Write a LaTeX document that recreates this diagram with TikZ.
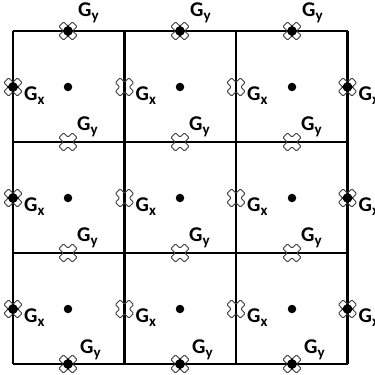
\documentclass[tikz,border=0pt]{standalone}
\usepackage{fontspec}
\setmainfont{Carlito}
\begin{document}
\begin{tikzpicture}[x=1pt,y=-1pt,
  gridline/.style={line width=2.4pt,black},
  lbl/.style={inner sep=0pt,anchor=base west,font=\fontsize{21}{21}\selectfont\bfseries},
  mk/.pic={\draw[line width=0.9pt,black!75,rounded corners=1.2pt,rotate=45,scale=1.3]
      (-2.6,7.4)--(2.6,7.4)--(2.6,2.6)--(7.4,2.6)--(7.4,-2.6)--(2.6,-2.6)--(2.6,-7.4)--(-2.6,-7.4)--(-2.6,-2.6)--(-7.4,-2.6)--(-7.4,2.6)--(-2.6,2.6)--cycle;},
  mkb/.pic={\draw[line width=0.9pt,black!75,rounded corners=1.2pt,rotate=45,scale=1.3]
      (-2.6,7.4)--(2.6,7.4)--(2.6,2.6)--(7.4,2.6)--(7.4,-2.6)--(2.6,-2.6)--(2.6,-7.4)--(-2.6,-7.4)--(-2.6,-2.6)--(-7.4,-2.6)--(-7.4,2.6)--(-2.6,2.6)--cycle;
      \fill[black,rotate=45] (-4,-4) rectangle (4,4);
      \fill[black] (0,0) circle (4.8);},
  ctr/.style={circle,fill=black,inner sep=0pt,minimum size=8.5pt}
]
\newcommand{\Gy}{G\raisebox{-4pt}{\fontsize{15}{15}\selectfont y}}
\newcommand{\Gx}{G\raisebox{-4pt}{\fontsize{15}{15}\selectfont x}}
\useasboundingbox (0,0) rectangle (375,375);
\fill[white] (0,0) rectangle (375,375);
% grid corners
\foreach \i/\X in {0/13,1/124.5,2/236,3/347.5}{
  \foreach \j/\Y in {0/31,1/142,2/253,3/364}{
    \coordinate (p\i\j) at (\X,\Y);
  }
}
\foreach \i in {0,1,2,3}{
  \draw[gridline] (p\i0) -- (p\i3);
  \draw[gridline] (p0\i) -- (p3\i);
}
% cells
\foreach \i/\cx in {0/68,1/180,2/292}{
  \foreach \j/\cy in {0/87,1/198,2/309}{
    \node[ctr] (c\i\j) at (\cx,\cy) {};
  }
}
% markers on horizontal lines
\foreach \i/\cx in {0/68,1/180,2/292}{
  \pic at (\cx,31) {mkb};
  \pic at (\cx,142) {mk};
  \pic at (\cx,253) {mk};
  \pic at (\cx,364) {mkb};
  \node[lbl] (gyt\i) at (\cx+10,16) {\Gy};
  \node[lbl] (gy\i0) at (\cx+9,130) {\Gy};
  \node[lbl] (gy\i1) at (\cx+9,241) {\Gy};
  \node[lbl] (gy\i2) at (\cx+12,353) {\Gy};
}
% markers on vertical lines
\foreach \j/\cy in {0/87,1/198,2/309}{
  \pic at (13,\cy) {mkb};
  \pic at (124.5,\cy) {mk};
  \pic at (236,\cy) {mk};
  \pic at (347.5,\cy) {mkb};
  \node[lbl] (gx0\j) at (24,\cy+13) {\Gx};
  \node[lbl] (gx1\j) at (135.5,\cy+13) {\Gx};
  \node[lbl] (gx2\j) at (247,\cy+13) {\Gx};
  \node[lbl] (gx3\j) at (358.5,\cy+13) {\Gx};
}
\end{tikzpicture}
\end{document}
